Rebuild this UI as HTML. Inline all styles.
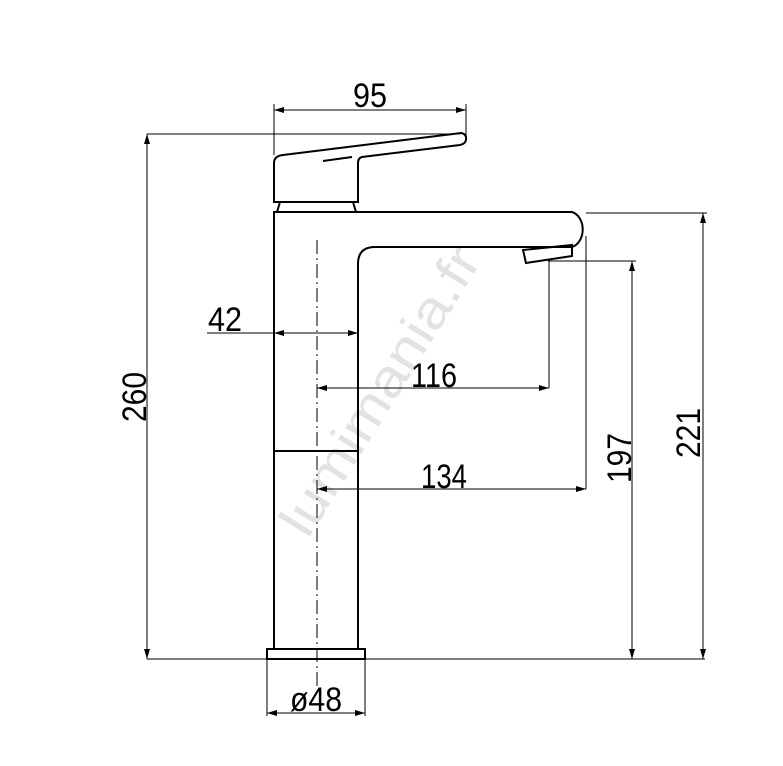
<!DOCTYPE html>
<html><head><style>body{margin:0;background:#fff}svg{display:block}</style></head><body>
<svg width="783" height="766" viewBox="0 0 783 766" xmlns="http://www.w3.org/2000/svg">
<defs>
<marker id="a" viewBox="0 0 10 6" refX="10" refY="3" markerWidth="10" markerHeight="6" orient="auto-start-reverse" markerUnits="userSpaceOnUse"><path d="M0,0 L10,3 L0,6z" fill="#000"/></marker>
</defs>
<text x="395" y="400" transform="rotate(-58 395 400)" text-anchor="middle" font-family="Liberation Sans, sans-serif" font-size="52" fill="#e2e2e2" textLength="330" lengthAdjust="spacingAndGlyphs">lumimania.fr</text>
<g fill="none" stroke="#000" stroke-width="2">
<path d="M274,649 V212 H572 A14,18 0 0 1 572,247 H375 Q358,247 358,264 V649"/>
<line x1="274" y1="451" x2="358" y2="451"/>
<rect x="267" y="649" width="98" height="10"/>
<path d="M523,250 L572,245 L572,256 L526,263 Z"/>
<path d="M277,212 L280,202 H353 L356,212"/>
<path d="M274,202 V163 Q274,156 283,155 L461,133 Q467,134 466,140 Q465,144 460,145 L362,157 Q358,158 358,163 V202 Z"/>
<line x1="323" y1="161" x2="352" y2="157"/>
</g>
<g stroke="#000" stroke-width="1" fill="none">
<line x1="317" y1="240" x2="317" y2="690" stroke-dasharray="14,4,2,4"/>
<line x1="147" y1="659" x2="705" y2="659"/>
<line x1="147" y1="134" x2="460" y2="134"/>
<line x1="147" y1="134" x2="147" y2="659" marker-start="url(#a)" marker-end="url(#a)"/>
<line x1="274" y1="155" x2="274" y2="104"/><line x1="466" y1="138" x2="466" y2="104"/>
<line x1="274" y1="110" x2="466" y2="110" marker-start="url(#a)" marker-end="url(#a)"/>
<line x1="586" y1="213" x2="707" y2="213"/>
<line x1="703" y1="213" x2="703" y2="659" marker-start="url(#a)" marker-end="url(#a)"/>
<line x1="548" y1="261" x2="636" y2="261"/>
<line x1="632" y1="261" x2="632" y2="659" marker-start="url(#a)" marker-end="url(#a)"/>
<line x1="549" y1="261" x2="549" y2="388"/>
<line x1="317" y1="388" x2="549" y2="388" marker-start="url(#a)" marker-end="url(#a)"/>
<line x1="586" y1="236" x2="586" y2="489"/>
<line x1="317" y1="489" x2="586" y2="489" marker-start="url(#a)" marker-end="url(#a)"/>
<line x1="207" y1="333" x2="274" y2="333"/>
<line x1="274" y1="333" x2="358" y2="333" marker-start="url(#a)" marker-end="url(#a)"/>
<line x1="267" y1="659" x2="267" y2="716"/><line x1="365" y1="659" x2="365" y2="716"/>
<line x1="267" y1="713" x2="365" y2="713" marker-start="url(#a)" marker-end="url(#a)"/>
</g>
<g font-family="Liberation Sans, sans-serif" font-size="34" fill="#000" text-anchor="middle">
<text x="370" y="107" textLength="34" lengthAdjust="spacingAndGlyphs">95</text>
<text x="225" y="331" textLength="34" lengthAdjust="spacingAndGlyphs">42</text>
<text x="434" y="387" textLength="46" lengthAdjust="spacingAndGlyphs">116</text>
<text x="444" y="488" textLength="46" lengthAdjust="spacingAndGlyphs">134</text>
<text x="316" y="711" textLength="52" lengthAdjust="spacingAndGlyphs">ø48</text>
<text transform="translate(146,397) rotate(-90)" x="0" y="0" textLength="50" lengthAdjust="spacingAndGlyphs">260</text>
<text transform="translate(631,458) rotate(-90)" x="0" y="0" textLength="50" lengthAdjust="spacingAndGlyphs">197</text>
<text transform="translate(700,433) rotate(-90)" x="0" y="0" textLength="50" lengthAdjust="spacingAndGlyphs">221</text>
</g>
</svg>
</body></html>
